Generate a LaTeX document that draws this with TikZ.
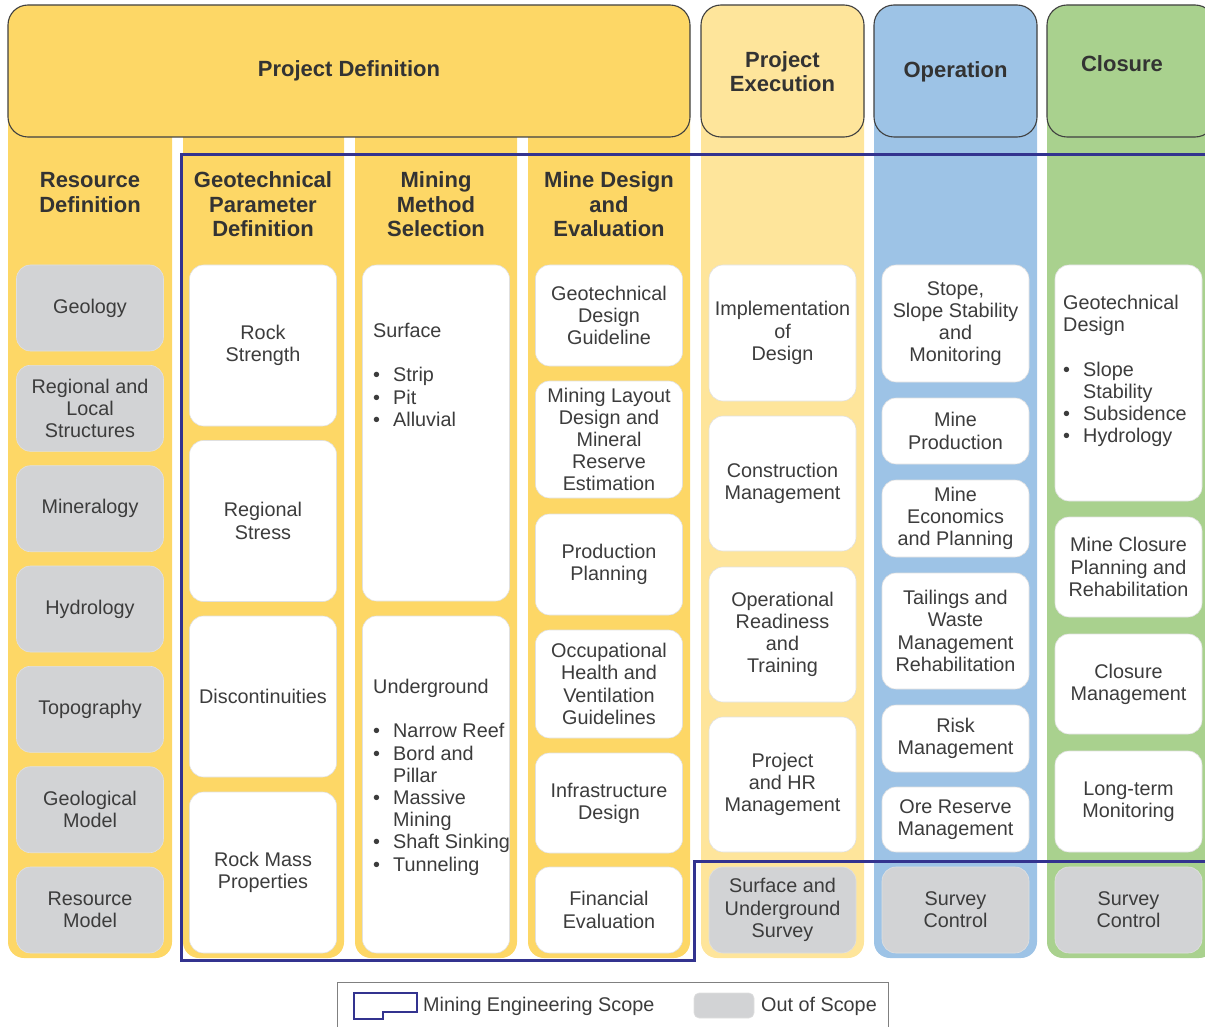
\documentclass[tikz,border=0pt]{standalone}
\usepackage{fontspec}
\setmainfont{Liberation Sans}
\usepackage{tikz}

\definecolor{pdyellow}{HTML}{FDD766}
\definecolor{pelight}{HTML}{FEE59B}
\definecolor{opblue}{HTML}{9DC3E6}
\definecolor{clgreen}{HTML}{A9D18E}
\definecolor{oosgray}{HTML}{D2D3D5}
\definecolor{scopeblue}{HTML}{33338F}
\definecolor{hdrline}{HTML}{404040}
\definecolor{hdrtxt}{HTML}{333333}
\definecolor{txtgray}{HTML}{3C3C3C}

\newcommand{\bitem}{\makebox[20pt][l]{\textbullet}}
\newcommand{\bcont}{\hspace*{20pt}}

\tikzset{
	strip/.style={rounded corners=16pt},
	hdrbox/.style={draw=hdrline, line width=1.1pt, rounded corners=20pt},
	hdrtext/.style={font=\fontsize{22}{24.6}\selectfont\bfseries, text=hdrtxt, align=center, inner sep=0pt},
	wbox/.style={rectangle, rounded corners=14pt, fill=white, draw=black!12, line width=0.6pt, minimum width=147pt, align=center, text=txtgray, font=\fontsize{19.8}{22.2}\selectfont, inner sep=1pt},
	gbox/.style={wbox, fill=oosgray},
	listtext/.style={anchor=north west, align=left, inner sep=0pt, text=txtgray, font=\fontsize{19.8}{22.2}\selectfont},
	scopeline/.style={draw=scopeblue, line width=3pt},
	legtext/.style={anchor=west, inner sep=0pt, text=txtgray, font=\fontsize{19.8}{22.2}\selectfont}
}

\begin{document}
\begin{tikzpicture}[x=1pt, y=-1pt]
	\useasboundingbox (0,0) rectangle (1205,1027);
	\clip (0,0) rectangle (1205,1027);

	\fill [pdyellow, strip] (8,100) rectangle (172,958);
	\fill [pdyellow, strip] (183,100) rectangle (344,958);
	\fill [pdyellow, strip] (355,100) rectangle (517,958);
	\fill [pdyellow, strip] (528,100) rectangle (690,958);
	\fill [pelight, strip] (701,60) rectangle (864,958);
	\fill [opblue, strip] (874,60) rectangle (1037,958);
	\fill [clgreen, strip] (1047,60) rectangle (1215,958);

	\draw [hdrbox, fill=pdyellow] (8,5) rectangle (690,137);
	\draw [hdrbox, fill=pelight] (701,5) rectangle (864,137);
	\draw [hdrbox, fill=opblue] (874,5) rectangle (1037,137);
	\draw [hdrbox, fill=clgreen] (1047,5) rectangle (1215,137);

	\node [hdrtext] (pdef) at (349,71) {Project Definition};
	\node [hdrtext] (pexe) at (782.5,71.5) {Project\\Execution};
	\node [hdrtext] (oper) at (955.5,72) {Operation};
	\node [hdrtext] (clos) at (1122,64) {Closure};
	\node [hdrtext] (resdef) at (90,192.5) {Resource\\Definition};
	\node [hdrtext] (geodef) at (263,204.5) {Geotechnical\\Parameter\\Definition};
	\node [hdrtext] (mmsel) at (436,204.5) {Mining\\Method\\Selection};
	\node [hdrtext] (mdeval) at (609,204.5) {Mine Design\\and\\Evaluation};

	\node [gbox, minimum height=86pt] (geol) at (90,308) {Geology};
	\node [gbox, minimum height=86pt] (rlstr) at (90,408.3) {Regional and\\Local\\Structures};
	\node [gbox, minimum height=86pt] (minr) at (90,508.7) {Mineralogy};
	\node [gbox, minimum height=86pt] (hydr) at (90,609) {Hydrology};
	\node [gbox, minimum height=86pt] (topo) at (90,709.3) {Topography};
	\node [gbox, minimum height=86pt] (gmod) at (90,809.7) {Geological\\Model};
	\node [gbox, minimum height=86pt] (rmod) at (90,910) {Resource\\Model};

	\node [wbox, minimum height=161pt] (rstr) at (263,345.5) {Rock\\Strength};
	\node [wbox, minimum height=161pt] (rstress) at (263,521) {Regional\\Stress};
	\node [wbox, minimum height=161pt] (disc) at (263,696.5) {Discontinuities};
	\node [wbox, minimum height=161pt] (rmp) at (263,872.5) {Rock Mass\\Properties};

	\node [wbox, minimum height=336pt] (surf) at (436,433) {};
	\node [wbox, minimum height=337pt] (undg) at (436,784.5) {};
	\node [listtext] (surft) at (373,323) {Surface\\[22.2pt]\bitem Strip\\\bitem Pit\\\bitem Alluvial};
	\node [listtext] (undgt) at (373,679) {Underground\\[22.2pt]\bitem Narrow Reef\\\bitem Bord and\\\bcont Pillar\\\bitem Massive\\\bcont Mining\\\bitem Shaft Sinking\\\bitem Tunneling};

	\node [wbox, minimum height=101pt] (gdg) at (609,315.5) {Geotechnical\\Design\\Guideline};
	\node [wbox, minimum height=117pt] (mlay) at (609,439.5) {Mining Layout\\Design and\\Mineral\\Reserve\\Estimation};
	\node [wbox, minimum height=101pt] (pplan) at (609,564.5) {Production\\Planning};
	\node [wbox, minimum height=108pt] (ohv) at (609,684) {Occupational\\Health and\\Ventilation\\Guidelines};
	\node [wbox, minimum height=100pt] (infra) at (609,803) {Infrastructure\\Design};
	\node [wbox, minimum height=86pt] (fin) at (609,910) {Financial\\Evaluation};

	\node [wbox, minimum height=136pt] (impl) at (782.5,333) {Implementation\\of\\Design};
	\node [wbox, minimum height=135pt] (cons) at (782.5,483.5) {Construction\\Management};
	\node [wbox, minimum height=135pt] (oprd) at (782.5,634.5) {Operational\\Readiness\\and\\Training};
	\node [wbox, minimum height=135pt] (phr) at (782.5,784.5) {Project\\and HR\\Management};
	\node [gbox, minimum height=86pt] (sus) at (782.5,910) {Surface and\\Underground\\Survey};

	\node [wbox, minimum height=117pt] (stope) at (955.5,323.5) {Stope,\\Slope Stability\\and\\Monitoring};
	\node [wbox, minimum height=66pt] (mprod) at (955.5,431) {Mine\\Production};
	\node [wbox, minimum height=77pt] (mecon) at (955.5,518.5) {Mine\\Economics\\and Planning};
	\node [wbox, minimum height=116pt] (tail) at (955.5,631) {Tailings and\\Waste\\Management\\Rehabilitation};
	\node [wbox, minimum height=67pt] (risk) at (955.5,738.5) {Risk\\Management};
	\node [wbox, minimum height=65pt] (ore) at (955.5,819.5) {Ore Reserve\\Management};
	\node [gbox, minimum height=86pt] (svco) at (955.5,910) {Survey\\Control};

	\node [wbox, minimum height=236pt] (gdes) at (1128.5,383) {};
	\node [listtext] (gdest) at (1063,295) {Geotechnical\\Design\\[22.2pt]\bitem Slope\\\bcont Stability\\\bitem Subsidence\\\bitem Hydrology};
	\node [wbox, minimum height=100pt] (mcp) at (1128.5,567) {Mine Closure\\Planning and\\Rehabilitation};
	\node [wbox, minimum height=100pt] (cman) at (1128.5,684) {Closure\\Management};
	\node [wbox, minimum height=101pt] (ltm) at (1128.5,801.5) {Long-term\\Monitoring};
	\node [gbox, minimum height=86pt] (svcc) at (1128.5,910) {Survey\\Control};

	\draw [scopeline] (1215,155) -- (181,155) -- (181,960) -- (694,960) -- (694,861) -- (1215,861);

	\draw [black!50, line width=0.8pt] (337,982) rectangle (888,1040);
	\draw [scopeline, line width=2.5pt] (354,993) -- (417,993) -- (417,1012) -- (383,1012) -- (383,1019) -- (354,1019) -- cycle;
	\node [legtext] (lgscope) at (423,1006) {Mining Engineering Scope};
	\node [gbox, minimum width=60pt, minimum height=25pt, rounded corners=5pt] (lggray) at (724,1005.5) {};
	\node [legtext] (lgout) at (761,1006) {Out of Scope};
\end{tikzpicture}
\end{document}
